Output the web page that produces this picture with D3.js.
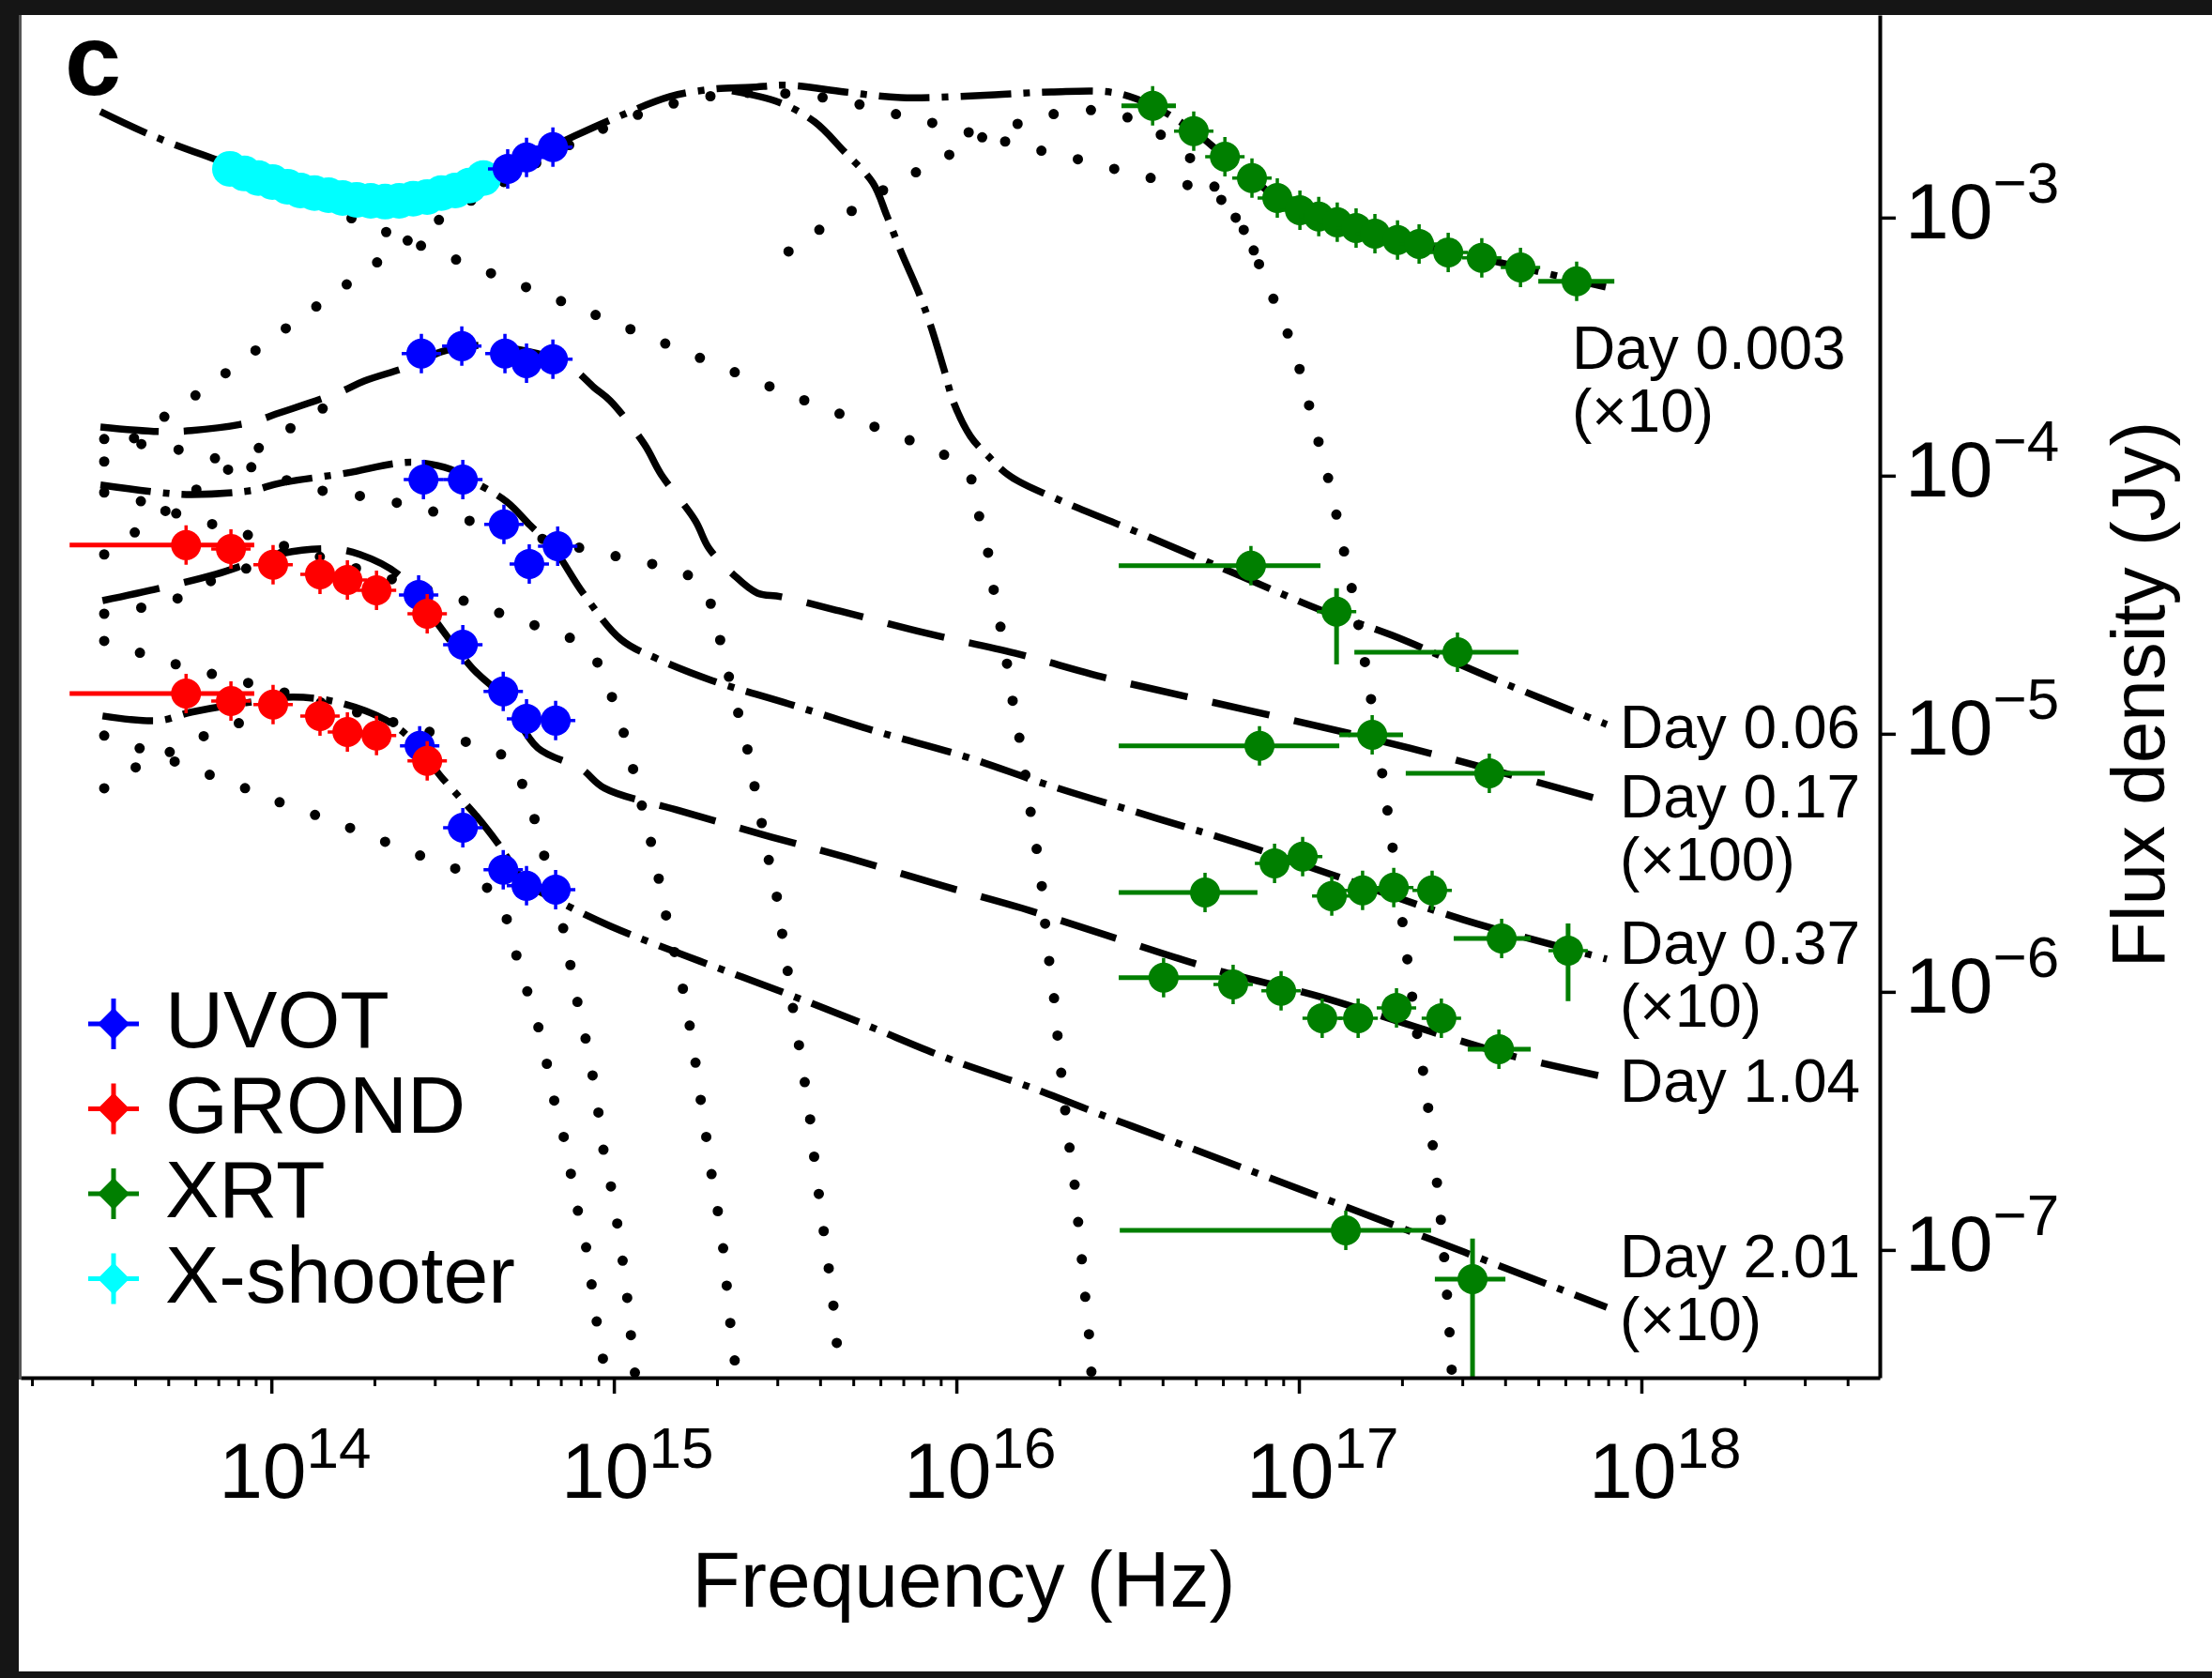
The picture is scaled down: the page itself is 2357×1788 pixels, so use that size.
<!DOCTYPE html>
<html>
<head>
<meta charset="utf-8">
<script src="https://cdn.jsdelivr.net/npm/d3@7"></script>
<style>
  body { margin: 0; background: #151515; }
  svg { display: block; }
  text { font-family: 'Liberation Sans', Arial, Helvetica, sans-serif; fill: #000; }
</style>
</head>
<body>
<svg id="canvas" width="2357" height="1788"></svg>
<script>
// all values are log10(frequency / Hz), log10(flux density / Jy)

var freqTicks = [14, 15, 16, 17, 18];
var fluxTicks = [-3, -4, -5, -6, -7];

var legendNames = ['UVOT', 'GROND', 'XRT', 'X-shooter'];

var dayLabels = [['Day 0.003', '(\u00d710)'], ['Day 0.06'], ['Day 0.17', '(\u00d7100)'], ['Day 0.37', '(\u00d710)'], ['Day 1.04'], ['Day 2.01', '(\u00d710)']];
var dayLabelAt = [[17.797, -3.585], [17.937, -5.055], [17.937, -5.324], [17.937, -5.891], [17.937, -6.425], [17.937, -7.105]];

// ---- data points ----
var uvot_0003 = [[14.690,-2.811],[14.745,-2.767],[14.822,-2.727]];
var uvot_017 = [[14.438,-3.527],[14.556,-3.498],[14.682,-3.527],[14.745,-3.564],[14.822,-3.549]];
var uvot_037 = [[14.444,-4.015],[14.559,-4.015],[14.679,-4.189],[14.753,-4.342],[14.836,-4.273]];
var uvot_104 = [[14.430,-4.462],[14.559,-4.655],[14.677,-4.836],[14.745,-4.942],[14.830,-4.949]];
var uvot_201 = [[14.433,-5.047],[14.559,-5.364],[14.677,-5.527],[14.745,-5.589],[14.830,-5.604]];

// [nu, F, nuLo, nuHi]
var grond_104 = [[13.751,-4.269,13.411,13.95],[13.882,-4.284],[14.005,-4.345],[14.142,-4.382],[14.222,-4.404],[14.307,-4.444],[14.455,-4.535]];
var grond_201 = [[13.751,-4.844,13.411,13.95],[13.882,-4.873],[14.005,-4.887],[14.142,-4.931],[14.222,-4.993],[14.307,-5.007],[14.455,-5.105]];

var xshooter_0003 = [[13.879,-2.811],[13.921,-2.829],[13.962,-2.847],[14.003,-2.862],[14.047,-2.880],[14.085,-2.895],[14.126,-2.905],
  [14.167,-2.913],[14.208,-2.924],[14.249,-2.931],[14.290,-2.935],[14.332,-2.938],[14.373,-2.935],[14.414,-2.927],[14.455,-2.920],
  [14.496,-2.905],[14.537,-2.895],[14.578,-2.876],[14.619,-2.847]];

// [nu, F, nuLo, nuHi, FLo, FHi]
var xrt_0003 = [[16.573,-2.567,16.482,16.641],[16.693,-2.665],[16.784,-2.764],[16.863,-2.847],[16.937,-2.924],[17.003,-2.971],
  [17.058,-2.996],[17.112,-3.018],[17.167,-3.040],[17.222,-3.062],[17.288,-3.087],[17.351,-3.102],[17.436,-3.135],[17.534,-3.156],
  [17.647,-3.193],[17.811,-3.247,17.699,17.921]];
var xrt_006 = [[16.860,-4.349,16.474,17.063],[17.110,-4.527,null,null,-4.436,-4.731],[17.463,-4.684,17.162,17.641]];
var xrt_017 = [[16.885,-5.047,16.474,17.118],[17.214,-5.004,17.118,17.304],[17.556,-5.153,17.312,17.718]];
var xrt_037 = [[16.726,-5.615,16.474,16.879],[16.929,-5.502],[17.011,-5.476],[17.096,-5.629],[17.186,-5.607],[17.277,-5.596],
  [17.389,-5.607],[17.592,-5.793,17.452,17.677],[17.786,-5.840,null,null,-5.735,-6.036]];
var xrt_104 = [[16.605,-5.945,16.474,16.827],[16.808,-5.971],[16.948,-5.996],[17.068,-6.102],[17.173,-6.102],[17.285,-6.062],
  [17.416,-6.102],[17.584,-6.222,17.493,17.677]];
var xrt_201 = [[17.137,-6.924,16.477,17.386],[17.507,-7.113,17.397,17.603,-6.956,-7.6]];

// ---- total models ----
var model_0003 = [[13.501,-2.589],[13.655,-2.684],[13.852,-2.782],[14.003,-2.855],[14.167,-2.909],[14.326,-2.935],[14.468,-2.916],
  [14.633,-2.851],[14.745,-2.775],[14.885,-2.684],[15.016,-2.607],[15.164,-2.531],[15.290,-2.502],[15.400,-2.495],[15.510,-2.487],
  [15.674,-2.513],[15.838,-2.535],[16.112,-2.524],[16.277,-2.513],[16.460,-2.516],[16.573,-2.567],[16.693,-2.665],[16.784,-2.764],
  [16.863,-2.847],[16.937,-2.924],[17.044,-2.989],[17.181,-3.044],[17.318,-3.095],[17.482,-3.142],[17.647,-3.193],[17.896,-3.269]];
var model_006 = [[15.345,-2.509],[15.482,-2.553],[15.586,-2.629],[15.671,-2.742],[15.756,-2.865],[15.797,-2.993],[15.838,-3.131],
  [15.888,-3.284],[15.923,-3.411],[15.964,-3.589],[15.992,-3.716],[16.041,-3.847],[16.090,-3.920],[16.159,-4.004],[16.307,-4.098],
  [16.540,-4.225],[16.811,-4.378],[17.063,-4.520],[17.271,-4.618],[17.564,-4.785],[17.899,-4.964]];
var model_017 = [[13.501,-3.811],[13.677,-3.829],[13.767,-3.825],[13.940,-3.793],[14.025,-3.756],[14.200,-3.676],[14.271,-3.633],
  [14.405,-3.575],[14.496,-3.520],[14.605,-3.495],[14.715,-3.509],[14.822,-3.545],[14.885,-3.589],[14.942,-3.658],[14.989,-3.709],
  [15.090,-3.880],[15.137,-3.993],[15.238,-4.175],[15.277,-4.280],[15.348,-4.382],[15.419,-4.455],[15.488,-4.469],[15.658,-4.524],
  [15.915,-4.611],[16.170,-4.687],[16.441,-4.785],[16.852,-4.909],[17.200,-5.015],[17.479,-5.109],[17.899,-5.262]];
var model_037 = [[13.501,-4.036],[13.671,-4.065],[13.767,-4.073],[13.940,-4.058],[14.025,-4.029],[14.222,-3.989],[14.359,-3.953],
  [14.427,-3.949],[14.523,-3.975],[14.608,-4.036],[14.688,-4.102],[14.756,-4.193],[14.825,-4.284],[14.910,-4.455],[15.022,-4.636],
  [15.126,-4.709],[15.285,-4.793],[15.510,-4.884],[15.762,-4.989],[16.022,-5.087],[16.271,-5.200],[16.584,-5.327],[16.852,-5.436],
  [17.088,-5.542],[17.479,-5.720],[17.899,-5.873]];
var model_104 = [[13.507,-4.484],[13.674,-4.436],[13.838,-4.382],[14.030,-4.302],[14.178,-4.284],[14.258,-4.305],[14.370,-4.382],
  [14.455,-4.520],[14.586,-4.745],[14.682,-4.865],[14.778,-5.055],[14.904,-5.135],[14.973,-5.211],[15.192,-5.298],[15.430,-5.389],
  [15.682,-5.480],[15.970,-5.593],[16.192,-5.676],[16.441,-5.782],[16.781,-5.924],[17.060,-6.018],[17.340,-6.135],[17.619,-6.247],
  [17.899,-6.331]];
var model_201 = [[13.507,-4.931],[13.671,-4.949],[13.767,-4.916],[13.926,-4.880],[14.063,-4.858],[14.200,-4.880],[14.337,-4.949],
  [14.414,-5.029],[14.496,-5.167],[14.597,-5.316],[14.660,-5.422],[14.742,-5.575],[14.836,-5.647],[14.989,-5.745],[15.249,-5.880],
  [15.477,-5.993],[15.721,-6.120],[15.975,-6.258],[16.219,-6.371],[16.452,-6.491],[16.512,-6.520],[17.195,-6.862],[17.899,-7.222]];

// ---- model components (dotted) ----
var comp_0003_pl = [[14.030,-2.895],[14.263,-3.018],[14.907,-3.356],[15.545,-3.702],[15.868,-3.865],[15.975,-3.927],[16.022,-3.975],
  [16.049,-4.029],[16.068,-4.167],[16.096,-4.320],[16.112,-4.469],[16.134,-4.622],[16.153,-4.771],[16.170,-4.920],[16.192,-5.073],
  [16.208,-5.222],[16.225,-5.375],[16.244,-5.527],[16.266,-5.829],[16.282,-5.985],[16.293,-6.138],[16.304,-6.287],[16.329,-6.589],
  [16.345,-6.745],[16.356,-6.898],[16.367,-7.047],[16.378,-7.207],[16.389,-7.356],[16.395,-7.495]];
var comp_0003_th = [[13.512,-3.945],[13.614,-3.840],[13.795,-3.673],[13.978,-3.491],[14.164,-3.313],[14.353,-3.131],[14.444,-3.047],
  [14.545,-2.964],[14.688,-2.855],[14.852,-2.731],[15.016,-2.629],[15.181,-2.556],[15.345,-2.520],[15.510,-2.520],[15.674,-2.549],
  [15.847,-2.607],[15.964,-2.644],[16.077,-2.684],[16.189,-2.720],[16.293,-2.756],[16.405,-2.789],[16.518,-2.833],[16.630,-2.862],
  [16.737,-2.898],[16.795,-2.960],[16.852,-3.080],[16.896,-3.222],[16.942,-3.367],[16.984,-3.509],[17.016,-3.655],[17.044,-3.804],
  [17.074,-3.949],[17.101,-4.098],[17.123,-4.240],[17.148,-4.393],[17.208,-4.844],[17.258,-5.291],[17.304,-5.745],[17.348,-6.189],
  [17.367,-6.345],[17.400,-6.702],[17.422,-6.993],[17.444,-7.407],[17.447,-7.495]];
var comp_0003_x = [[15.510,-3.131],[15.608,-3.040],[15.707,-2.964],[15.803,-2.880],[15.901,-2.811],[16.000,-2.742],[16.090,-2.680],
  [16.216,-2.622],[16.329,-2.589],[16.444,-2.589],[16.551,-2.644],[16.647,-2.727],[16.726,-2.833],[16.795,-2.960],[16.852,-3.080],
  [16.896,-3.222]];
var comp_017 = [[13.512,-3.858],[13.740,-3.902],[13.852,-3.938],[13.962,-3.975],[14.110,-4.047],[14.301,-4.087],[14.416,-4.120],
  [14.523,-4.156],[14.742,-4.229],[14.973,-4.302],[15.085,-4.335],[15.197,-4.371],[15.266,-4.447],[15.301,-4.589],[15.329,-4.742],
  [15.356,-4.884],[15.386,-5.036],[15.408,-5.185],[15.430,-5.335],[15.452,-5.487],[15.477,-5.640],[15.493,-5.789],[15.510,-5.942],
  [15.526,-6.091],[15.545,-6.244],[15.562,-6.393],[15.578,-6.545],[15.589,-6.695],[15.605,-6.844],[15.619,-6.996],[15.636,-7.153],
  [15.647,-7.305],[15.660,-7.495]];
var comp_037 = [[13.512,-4.065],[13.627,-4.102],[13.729,-4.149],[13.841,-4.193],[13.956,-4.240],[14.112,-4.302],[14.304,-4.382],
  [14.468,-4.447],[14.619,-4.509],[14.729,-4.564],[14.836,-4.607],[14.907,-4.658],[14.962,-4.745],[15.000,-4.880],[15.036,-5.029],
  [15.063,-5.175],[15.090,-5.324],[15.118,-5.473],[15.140,-5.625],[15.164,-5.775],[15.192,-5.927],[15.214,-6.076],[15.233,-6.225],
  [15.249,-6.378],[15.266,-6.527],[15.282,-6.680],[15.301,-6.829],[15.318,-6.982],[15.329,-7.131],[15.340,-7.284],[15.359,-7.495]];
var comp_104 = [[13.512,-4.640],[13.627,-4.691],[13.740,-4.738],[13.847,-4.775],[13.956,-4.811],[14.167,-4.887],[14.359,-4.956],
  [14.551,-5.025],[14.647,-5.065],[14.701,-5.109],[14.732,-5.193],[14.762,-5.302],[14.792,-5.451],[14.825,-5.600],[14.852,-5.753],
  [14.874,-5.902],[14.896,-6.055],[14.921,-6.204],[14.942,-6.356],[14.959,-6.505],[14.975,-6.658],[15.000,-6.807],[15.016,-6.960],
  [15.033,-7.109],[15.044,-7.258],[15.063,-7.495]];
var comp_201 = [[13.512,-5.007],[13.627,-5.062],[13.729,-5.113],[13.836,-5.167],[13.951,-5.225],[14.052,-5.280],[14.164,-5.331],
  [14.268,-5.385],[14.381,-5.444],[14.485,-5.498],[14.592,-5.556],[14.671,-5.665],[14.704,-5.807],[14.737,-5.956],[14.773,-6.105],
  [14.800,-6.251],[14.822,-6.400],[14.852,-6.553],[14.874,-6.702],[14.896,-6.855],[14.921,-7.004],[14.937,-7.153],[14.953,-7.305],
  [14.978,-7.495]];
var rise_017 = [[13.512,-4.305],[13.603,-4.218],[13.701,-4.127],[13.797,-4.040],[13.893,-3.960],[13.989,-3.869],[14.085,-3.793],[14.200,-3.698]];
var rise_104 = [[13.512,-4.535],[13.614,-4.513],[13.718,-4.480],[13.819,-4.411],[13.926,-4.360],[14.030,-4.302]];
var rise_201 = [[13.512,-5.211],[13.608,-5.127],[13.718,-5.062],[13.819,-5.000],[13.926,-4.949],[14.044,-4.891]];

// ************************************************************************************************** //
// Setup

var lg = function(v){ return Math.pow(10, v); };

var W = 2357, H = 1788;
var plot = { left: 22, right: 2003, top: 16, bottom: 1468 };

var x = d3.scaleLog().domain([lg(13.268), lg(18.696)]).range([plot.left, plot.right]);
var y = d3.scaleLog().domain([lg(-7.495), lg(-2.215)]).range([plot.bottom, plot.top]);

var line_gen = d3.line()
  .x((d) => { return x(lg(d[0])) })
  .y((d) => { return y(lg(d[1])) })
  .curve(d3.curveCatmullRom.alpha(0.5));

var svg = d3.select('#canvas');

svg.append('rect').attr('width', W).attr('height', H).attr('fill', '#151515');
svg.append('rect').attr('x', 20).attr('y', 16).attr('width', W - 20).attr('height', 1765).attr('fill', '#fff');

svg.append('defs').append('clipPath').attr('id', 'plotclip').append('rect')
  .attr('x', plot.left).attr('y', plot.top).attr('width', plot.right - plot.left).attr('height', plot.bottom - plot.top);

var g = svg.append('g').attr('clip-path', 'url(#plotclip)');

// ************************************************************************************************** //
// Components and models

var components = [comp_0003_pl, comp_0003_th, comp_0003_x, comp_017, comp_037, comp_104, comp_201, rise_017, rise_104, rise_201];
components.forEach((c) => {
  g.append('path').attr('d', line_gen(c))
    .attr('fill', 'none').attr('stroke', '#000').attr('stroke-width', 11)
    .attr('stroke-linecap', 'round').attr('stroke-dasharray', '0,40');
});

var dashDot = '54,13,7,13', longDash = '62,27';
var models = [
  { pts: model_0003, dash: dashDot },
  { pts: model_006, dash: dashDot },
  { pts: model_017, dash: longDash },
  { pts: model_037, dash: dashDot },
  { pts: model_104, dash: longDash },
  { pts: model_201, dash: dashDot }
];
models.forEach((m) => {
  g.append('path').attr('d', line_gen(m.pts))
    .attr('fill', 'none').attr('stroke', '#000').attr('stroke-width', 7.5)
    .attr('stroke-dasharray', m.dash);
});

// ************************************************************************************************** //
// Data points

function drawPoints(pts, color, r, spike){
  pts.forEach((d) => {
    var cx = x(lg(d[0])), cy = y(lg(d[1]));
    if(d[2] != null){
      g.append('line').attr('x1', x(lg(d[2]))).attr('x2', x(lg(d[3]))).attr('y1', cy).attr('y2', cy)
        .attr('stroke', color).attr('stroke-width', 5);
    }
    if(d[4] != null){
      g.append('line').attr('x1', cx).attr('x2', cx).attr('y1', y(lg(d[4]))).attr('y2', y(lg(d[5])))
        .attr('stroke', color).attr('stroke-width', 5);
    }
    if(spike > 0){
      g.append('path').attr('d', 'M' + (cx - spike) + ',' + cy + 'H' + (cx + spike) + 'M' + cx + ',' + (cy - spike) + 'V' + (cy + spike))
        .attr('stroke', color).attr('stroke-width', 3.5);
    }
    g.append('circle').attr('cx', cx).attr('cy', cy).attr('r', r).attr('fill', color);
  });
}

var blue = '#0000ff', red = '#ff0000', green = '#007f00', cyan = '#00ffff';

drawPoints(xshooter_0003, cyan, 19, 0);
[uvot_0003, uvot_017, uvot_037, uvot_104, uvot_201].forEach((p) => { drawPoints(p, blue, 16, 21) });
[grond_104, grond_201].forEach((p) => { drawPoints(p, red, 16, 21) });
[xrt_0003, xrt_006, xrt_017, xrt_037, xrt_104, xrt_201].forEach((p) => { drawPoints(p, green, 16, 21) });

// ************************************************************************************************** //
// Axes

var xg = svg.append('g').attr('transform', 'translate(0,' + plot.bottom + ')')
  .call(d3.axisBottom(x).tickValues(freqTicks.map(lg)).tickSize(17).tickSizeOuter(0).tickFormat(''));
xg.select('.domain').attr('stroke-width', 4);
xg.selectAll('.tick line').attr('stroke-width', 3.5);

var minorX = x.ticks().filter((v) => { var l = Math.log10(v); return Math.abs(l - Math.round(l)) > 1e-6 });
var xm = svg.append('g').attr('transform', 'translate(0,' + plot.bottom + ')')
  .call(d3.axisBottom(x).tickValues(minorX).tickSize(9).tickSizeOuter(0).tickFormat(''));
xm.select('.domain').remove();
xm.selectAll('.tick line').attr('stroke-width', 3);

var yg = svg.append('g').attr('transform', 'translate(' + plot.right + ',0)')
  .call(d3.axisRight(y).tickValues(fluxTicks.map(lg)).tickSize(17).tickSizeOuter(0).tickFormat(''));
yg.select('.domain').attr('stroke-width', 4);
yg.selectAll('.tick line').attr('stroke-width', 3.5);

svg.append('line').attr('x1', 21.5).attr('x2', 21.5).attr('y1', 16).attr('y2', plot.bottom + 2)
  .attr('stroke', '#555').attr('stroke-width', 3);

freqTicks.forEach((k) => {
  var t = svg.append('text').attr('x', x(lg(k)) - 56).attr('y', 1596).attr('font-size', 84);
  t.append('tspan').text('10');
  t.append('tspan').attr('dy', -32).attr('font-size', 62).text(k);
});

fluxTicks.forEach((k) => {
  var t = svg.append('text').attr('x', 2030).attr('y', y(lg(k)) + 22).attr('font-size', 84);
  t.append('tspan').text('10');
  t.append('tspan').attr('dy', -38).attr('font-size', 62).text('\u2212' + Math.abs(k));
});

svg.append('text').attr('x', 1027).attr('y', 1712).attr('text-anchor', 'middle').attr('font-size', 84).text('Frequency (Hz)');
svg.append('text').attr('transform', 'translate(2306,740) rotate(-90)').attr('text-anchor', 'middle')
  .attr('font-size', 80).text('Flux density (Jy)');

// ************************************************************************************************** //
// Labels and legend

dayLabels.forEach((lines, i) => {
  var lx = x(lg(dayLabelAt[i][0])), ly = y(lg(dayLabelAt[i][1]));
  lines.forEach((s, j) => {
    svg.append('text').attr('x', lx).attr('y', ly + j * 67).attr('font-size', 64).text(s);
  });
});

svg.append('text').attr('x', 99).attr('y', 101).attr('text-anchor', 'middle')
  .attr('font-size', 108).attr('font-weight', 'bold').text('c');

var legendColors = [blue, red, green, cyan];
legendNames.forEach((name, i) => {
  var by = 1116 + i * 90.5, cy = by - 25;
  svg.append('path').attr('d', 'M94,' + cy + 'H148M121,' + (cy - 27) + 'V' + (cy + 27))
    .attr('stroke', legendColors[i]).attr('stroke-width', 5);
  svg.append('path').attr('d', 'M121,' + (cy - 17) + 'L138,' + cy + 'L121,' + (cy + 17) + 'L104,' + cy + 'Z')
    .attr('fill', legendColors[i]);
  svg.append('text').attr('x', 176).attr('y', by).attr('font-size', 86).text(name);
});
</script>
</body>
</html>
